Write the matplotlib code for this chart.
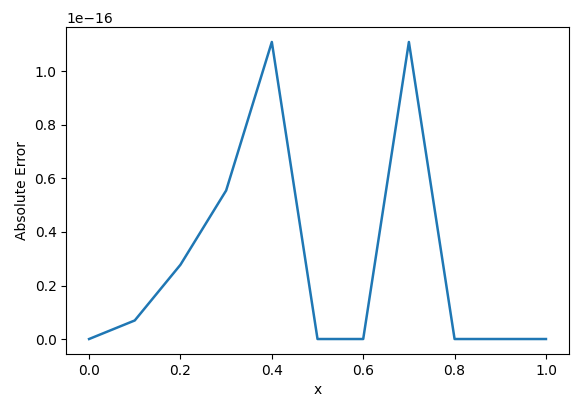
import matplotlib
matplotlib.use('Agg')
import matplotlib.pyplot as plt

# Data
x_vals = [0.0, 0.1, 0.2, 0.3, 0.4, 0.5, 0.6, 0.7, 0.8, 0.9, 1.0]
abs_error = [0.0, 0.0694e-16, 0.2776e-16, 0.5551e-16, 1.1102e-16,
             0.0, 0.0, 1.1102e-16, 0.0, 0.0, 0.0]

fig = plt.figure(figsize=(5.81, 4.11), dpi=100)
ax = fig.add_subplot(111)
fig.subplots_adjust(left=0.114, right=0.979, top=0.934, bottom=0.139)

ax.plot(x_vals, abs_error, color='#1f77b4', linewidth=1.8)
ax.set_xlabel('x')
ax.set_ylabel('Absolute Error')

fig.savefig('out.png', dpi=100)
